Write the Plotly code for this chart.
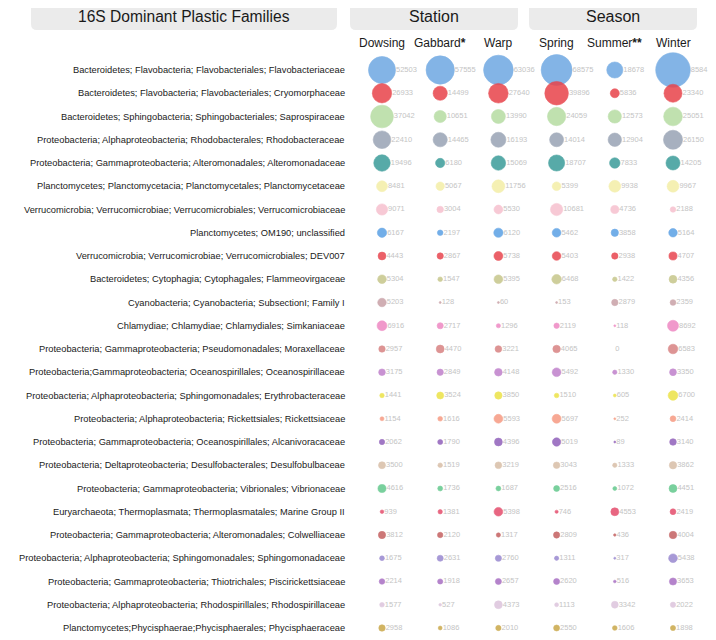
import numpy as np
import plotly.graph_objects as go

families = [
    "Bacteroidetes; Flavobacteria; Flavobacteriales; Flavobacteriaceae",
    "Bacteroidetes; Flavobacteria; Flavobacteriales; Cryomorphaceae",
    "Bacteroidetes; Sphingobacteria; Sphingobacteriales; Saprospiraceae",
    "Proteobacteria; Alphaproteobacteria; Rhodobacterales; Rhodobacteraceae",
    "Proteobacteria; Gammaproteobacteria; Alteromonadales; Alteromonadaceae",
    "Planctomycetes; Planctomycetacia; Planctomycetales; Planctomycetaceae",
    "Verrucomicrobia; Verrucomicrobiae; Verrucomicrobiales; Verrucomicrobiaceae",
    "Planctomycetes; OM190; unclassified",
    "Verrucomicrobia; Verrucomicrobiae; Verrucomicrobiales; DEV007",
    "Bacteroidetes; Cytophagia; Cytophagales; Flammeovirgaceae",
    "Cyanobacteria; Cyanobacteria; SubsectionI; Family I",
    "Chlamydiae; Chlamydiae; Chlamydiales; Simkaniaceae",
    "Proteobacteria; Gammaproteobacteria; Pseudomonadales; Moraxellaceae",
    "Proteobacteria;Gammaproteobacteria; Oceanospirillales; Oceanospirillaceae",
    "Proteobacteria; Alphaproteobacteria; Sphingomonadales; Erythrobacteraceae",
    "Proteobacteria; Alphaproteobacteria; Rickettsiales; Rickettsiaceae",
    "Proteobacteria; Gammaproteobacteria; Oceanospirillales; Alcanivoracaceae",
    "Proteobacteria; Deltaproteobacteria; Desulfobacterales; Desulfobulbaceae",
    "Proteobacteria; Gammaproteobacteria; Vibrionales; Vibrionaceae",
    "Euryarchaeota; Thermoplasmata; Thermoplasmatales; Marine Group II",
    "Proteobacteria; Gammaproteobacteria; Alteromonadales; Colwelliaceae",
    "Proteobacteria; Alphaproteobacteria; Sphingomonadales; Sphingomonadaceae",
    "Proteobacteria; Gammaproteobacteria; Thiotrichales; Piscirickettsiaceae",
    "Proteobacteria; Alphaproteobacteria; Rhodospirillales; Rhodospirillaceae",
    "Planctomycetes;Phycisphaerae;Phycisphaerales; Phycisphaeraceae",
]

columns = ["Dowsing", "Gabbard<b>*</b>", "Warp", "Spring", "Summer<b>**</b>", "Winter"]

dowsing = [52503, 26933, 37042, 22410, 19496, 8481, 9071, 6167, 4443, 5304, 5203, 6916, 2957,
           3175, 1441, 1154, 2062, 3500, 4616, 939, 3812, 1675, 2214, 1577, 2958]
gabbard = [57555, 14499, 10651, 14465, 6180, 5067, 3004, 2197, 2867, 1547, 128, 2717, 4470,
           2849, 3524, 1616, 1790, 1519, 1736, 1381, 2120, 2631, 1918, 527, 1086]
warp = [63036, 27640, 13990, 16193, 15069, 11756, 5530, 6120, 5738, 5395, 60, 1296, 3221,
        4148, 3850, 5593, 4396, 3219, 1687, 5398, 1317, 2760, 2657, 4373, 2010]
spring = [68575, 39896, 24059, 14014, 18707, 5399, 10681, 5462, 5403, 6468, 153, 2119, 4065,
          5492, 1510, 5697, 5019, 3043, 2516, 746, 2809, 1311, 2620, 1113, 2550]
summer = [18678, 5836, 12573, 12904, 7833, 9938, 4736, 3858, 2938, 1422, 2879, 118, 0,
          1330, 605, 252, 89, 1333, 1072, 4553, 436, 317, 516, 3342, 1606]
winter = [85841, 23340, 25051, 26150, 14205, 9967, 2188, 5164, 4707, 4356, 2359, 8692, 6583,
          3350, 6700, 2414, 3140, 3862, 4451, 2419, 4004, 5438, 3653, 2022, 1898]

row_colors = ["#6ea8e2", "#e8434a", "#b6dca2", "#98a3b4", "#3a9c99", "#f4eea6", "#f6c0ce",
              "#5aa0e4", "#e8454e", "#c6c68a", "#c8a0a6", "#ee88c2", "#d88282", "#bf80cb",
              "#ece246", "#f69a82", "#9060ba", "#d8bea6", "#62c88c", "#e44c6c", "#c46060",
              "#9888d0", "#a86ec2", "#dcc4dc", "#c9a748"]

# page has an 8px body margin; work in window pixels and convert
OFF = 8
W, H = 716 - OFF, 640 - OFF
col_px0, col_step = 382.0 - OFF, 58.2
row_px0, row_step = 70.0 - OFF, 23.25

data = np.array([dowsing, gabbard, warp, spring, summer, winter], dtype=float).T
diam = np.where(data > 0, np.maximum(0.118 * np.sqrt(data), 2.0), 0.0)
ncol = len(columns)

fig = go.Figure()
for i, fam in enumerate(families):
    fig.add_trace(go.Scatter(
        x=list(range(ncol)),
        y=[i] * ncol,
        mode="markers",
        marker=dict(size=diam[i], sizemode="diameter", color=row_colors[i], opacity=0.85,
                    line=dict(width=0.6, color=row_colors[i])),
        hoverinfo="skip",
        showlegend=False,
        cliponaxis=False,
    ))

# value labels just right of each bubble
for i, fam in enumerate(families):
    fig.add_trace(go.Scatter(
        x=[j + (diam[i][j] / 2 + 0.5) / col_step for j in range(ncol)],
        y=[i] * ncol,
        mode="text",
        text=[f"{int(v)}" for v in data[i]],
        textposition="middle right",
        textfont=dict(size=7.5, color="#c4c4c4", family="Liberation Sans, Arial"),
        hoverinfo="skip",
        showlegend=False,
        cliponaxis=False,
    ))

x0 = -col_px0 / col_step
x1 = x0 + W / col_step
ytop = -row_px0 / row_step
ybot = ytop + H / row_step

fig.update_xaxes(range=[x0, x1], visible=False, fixedrange=True)
fig.update_yaxes(range=[ybot, ytop], visible=False, fixedrange=True)


def px(x):
    return (x - OFF) / W


def py(y):
    return 1 - (y - OFF) / H


def rrect(xa, ya, xb, yb, r=6):
    pts = [
        f"M {px(xa + r)} {py(ya)}",
        f"L {px(xb - r)} {py(ya)}",
        f"Q {px(xb)} {py(ya)} {px(xb)} {py(ya + r)}",
        f"L {px(xb)} {py(yb - r)}",
        f"Q {px(xb)} {py(yb)} {px(xb - r)} {py(yb)}",
        f"L {px(xa + r)} {py(yb)}",
        f"Q {px(xa)} {py(yb)} {px(xa)} {py(yb - r)}",
        f"L {px(xa)} {py(ya + r)}",
        f"Q {px(xa)} {py(ya)} {px(xa + r)} {py(ya)}",
        "Z",
    ]
    return " ".join(pts)


shapes = []
annotations = []
boxes = [("16S Dominant Plastic Families", 31, 337, 15.6), ("Station", 350, 518, 16), ("Season", 529, 697, 16)]
for title, xa, xb, fs in boxes:
    shapes.append(dict(type="path", path=rrect(xa, 3, xb, 30), xref="paper", yref="paper",
                       fillcolor="#ebebeb", line=dict(width=0), layer="below"))
    annotations.append(dict(text=title, x=px((xa + xb) / 2), y=py(17), xref="paper", yref="paper",
                            showarrow=False, xanchor="center", yanchor="middle",
                            font=dict(size=fs, color="#1a1a1a", family="Liberation Sans, Arial")))

for j, c in enumerate(columns):
    annotations.append(dict(text=c, x=j, y=py(43), xref="x", yref="paper", showarrow=False,
                            xanchor="center", yanchor="middle",
                            font=dict(size=12, color="#1a1a1a", family="Liberation Sans, Arial")))

for i, fam in enumerate(families):
    annotations.append(dict(text=fam, x=px(347), y=i, xref="paper", yref="y", showarrow=False,
                            xanchor="right", yanchor="middle",
                            font=dict(size=9.3, color="#1a1a1a", family="Liberation Sans, Arial")))

fig.update_layout(
    width=W, height=H,
    margin=dict(l=0, r=0, t=0, b=0),
    paper_bgcolor="white", plot_bgcolor="white",
    shapes=shapes, annotations=annotations,
)

fig.write_html("out.html")
